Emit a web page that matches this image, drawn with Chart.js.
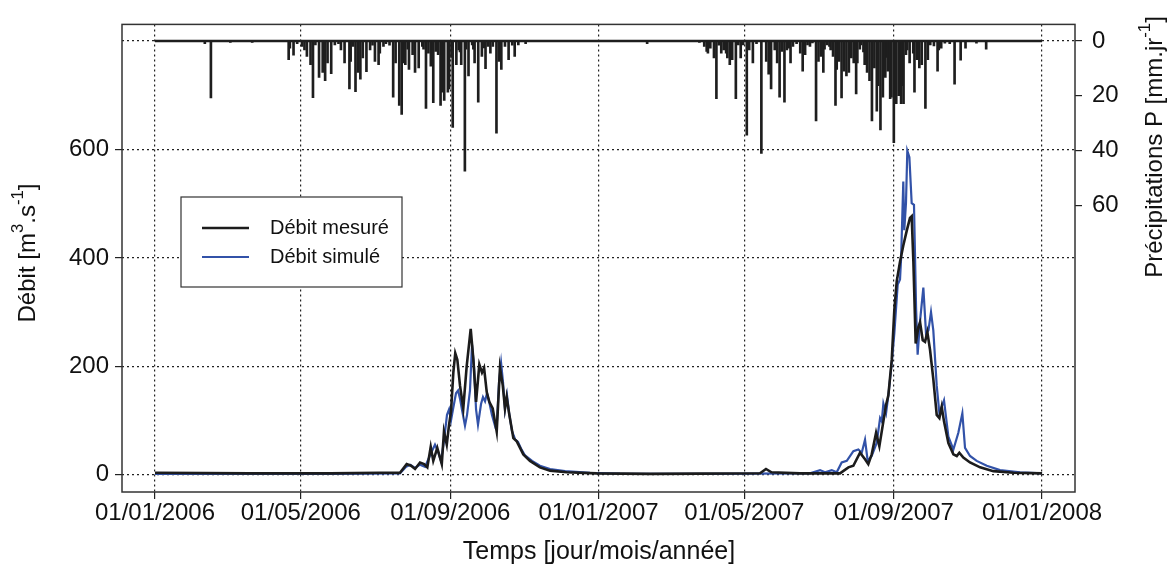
<!DOCTYPE html>
<html>
<head>
<meta charset="utf-8">
<script src="https://cdn.jsdelivr.net/npm/chart.js@4.4.1/dist/chart.umd.min.js"></script>
<style>
  html, body { margin: 0; padding: 0; background: #fff; }
  #wrap { width: 1168px; height: 570px; }
</style>
</head>
<body>
<div id="wrap"><canvas id="chart-debit"></canvas></div>
<script>
// jours comptes depuis le 01/01/2006
var xTickDays = [0, 120, 243, 365, 485, 608, 730];
var xTickLabels = ['01/01/2006', '01/05/2006', '01/09/2006', '01/01/2007', '01/05/2007', '01/09/2007', '01/01/2008'];
var debitTicks = [0, 200, 400, 600];
var pluieTicks = [0, 20, 40, 60];

var mesureDays = [0, 78, 144, 185, 201.6, 207.1, 210.7, 214, 218.1, 221.4, 224.1, 226.9, 229, 232.3, 236, 237.8, 240.1, 242, 243.6, 245.5, 247.1, 248.8, 251, 253.7, 256.5, 259.8, 262, 264.2, 266.9, 269.1, 270.8, 273, 275.1, 277.9, 281.2, 283.9, 286.2, 288, 289.4, 291.6, 294.9, 297.7, 300.4, 303.1, 308.6, 316.8, 325.1, 338.8, 363.5, 407.4, 448.5, 497.9, 502.8, 507.3, 530.8, 563.7, 570.6, 574.7, 580.2, 584.3, 587, 589.8, 593.4, 596.1, 599.4, 601.6, 603.5, 606.3, 608.4, 610.4, 613.1, 615.8, 618.6, 621.3, 622.7, 624.1, 626, 628.2, 629.6, 631.8, 633.7, 635.6, 637.8, 640.5, 643.3, 645.5, 647.4, 649.3, 652.9, 657, 659.8, 661.9, 665.2, 670.7, 679, 689.9, 706.4, 730];
var mesureValues = [3, 2, 2, 3, 3, 19, 16, 10, 22, 19, 13, 51, 25, 49, 19, 79, 55, 92, 116, 188, 224, 212, 164, 122, 200, 269, 212, 134, 203, 188, 197, 152, 134, 122, 79, 197, 164, 122, 143, 110, 67, 61, 49, 37, 25, 13, 7, 4, 2, 1, 1.5, 2, 10, 4, 2, 2, 13, 16, 40, 28, 19, 37, 77, 52, 98, 128, 146, 212, 303, 357, 393, 423, 450, 474, 477, 393, 242, 272, 281, 248, 245, 263, 230, 176, 110, 104, 125, 98, 58, 37, 34, 40, 31, 22, 13, 6, 3, 2];

var simuleDays = [0, 144, 201.6, 206.6, 209.9, 214, 218.1, 222.2, 226.3, 230.4, 232.9, 235.4, 237.8, 240.3, 242, 243.6, 245.2, 247.7, 249.4, 251, 252.6, 255.1, 256.8, 259.2, 260.9, 262.5, 264.2, 265.8, 268.3, 269.9, 271.6, 273.2, 274.9, 277.3, 279.8, 281.5, 283.1, 284.8, 286.4, 288, 289.7, 291.3, 293.8, 296.3, 298.7, 301.2, 304.5, 310.3, 316.8, 325.1, 337.4, 358, 382.7, 448.5, 530.8, 539, 547.3, 551.4, 556.9, 561, 565.1, 569.3, 574.7, 578.8, 581.6, 584.3, 586.5, 589.8, 593.9, 596.7, 598.1, 599.4, 601.6, 603.5, 606.3, 608.4, 611.2, 613.1, 614, 615.8, 616.6, 618, 619.1, 620.8, 622.7, 624.6, 626.3, 627.6, 629.6, 632.3, 634.5, 636.5, 638.6, 640.5, 643.3, 645.5, 649.3, 652.9, 657, 661.1, 664.4, 666.6, 670.7, 676.2, 684.5, 695.4, 711.9, 730];
var simuleValues = [1, 1, 2, 14, 18, 12, 18, 14, 35, 55, 42, 25, 62, 110, 120, 100, 120, 150, 155, 140, 120, 90, 110, 155, 240, 200, 120, 92, 130, 143, 135, 150, 135, 110, 90, 100, 170, 206, 170, 120, 146, 115, 80, 65, 60, 48, 35, 25, 16, 10, 6, 3, 1.5, 1, 2, 2, 8, 4, 8, 4, 22, 25, 43, 46, 40, 64, 25, 34, 58, 104, 98, 131, 113, 146, 206, 260, 351, 360, 400, 541, 451, 501, 598, 586, 501, 498, 309, 221, 284, 345, 260, 266, 300, 266, 164, 113, 137, 70, 46, 77, 113, 49, 34, 25, 16, 8, 4, 2];

var pluieDays = [41, 46, 62, 80, 110, 111, 114, 117, 121, 123, 125, 128, 130, 132, 135, 138, 140, 142, 145, 148, 151, 153, 156, 160, 161, 163, 165, 167, 169, 171, 174, 177, 179, 181, 184, 185, 188, 190, 193, 196, 198, 201, 203, 205, 206, 208, 209, 212, 214, 217, 220, 221, 223, 225, 227, 229, 231, 233, 235, 236, 238, 241, 242, 244, 245, 248, 250, 251, 252, 255, 256, 258, 261, 262, 263, 266, 269, 271, 272, 274, 276, 278, 281, 283, 285, 288, 291, 294, 296, 299, 305,
  405, 448, 452, 454, 455, 457, 460, 462, 464, 466, 468, 470, 471, 473, 475, 478, 480, 482, 484, 487, 489, 492, 495, 499, 503, 505, 507, 510, 512, 514, 516, 518, 520, 522, 523, 525, 528, 531, 533, 535, 537, 539, 541, 544, 546, 548, 550, 551, 553, 555, 556, 558, 560, 561, 563, 565, 567, 569, 571, 573, 575, 577, 578, 580, 581, 583, 584, 586, 588, 590, 592, 594, 595, 597, 599, 601, 602, 603, 605, 606, 608, 610, 612, 614, 615, 616, 618, 619, 621, 624, 625, 627, 629, 631, 634, 636, 638, 641, 644, 645, 647, 650, 654, 658, 663, 667, 676, 684];
var pluieValues = [1, 20.8, 0.5, 0.5, 6.8, 2.6, 5.2, 1, 2, 3.2, 5.6, 8.6, 20.7, 1.4, 13.3, 11.5, 14.5, 8, 11.9, 1.4, 1, 3.2, 8, 17.5, 7.4, 2, 18.5, 11.5, 13.9, 6.2, 11.2, 3.2, 1.5, 7.4, 8.6, 4.4, 2, 1, 1.5, 20.5, 8, 23.5, 26.8, 8, 8.6, 3, 10.4, 5, 11.5, 9.8, 2, 3, 24.6, 4.4, 9.2, 22.5, 3.8, 5, 23.5, 18.7, 21.7, 18.7, 17.5, 6, 31.5, 8.6, 3.2, 4, 8.6, 47.5, 3, 12.7, 1.4, 3, 8, 22.3, 5.6, 2.5, 10.1, 2, 4.4, 2, 33.6, 7.4, 10.4, 2, 6.8, 1.5, 5.6, 1.4, 1,
  1, 0.5, 2, 3.8, 4.4, 2.6, 6.2, 21, 1.5, 4.4, 3.2, 4.4, 6.2, 8.6, 6.8, 21, 1.4, 6.2, 1.4, 34.4, 3.2, 8, 1, 41, 7.4, 12.1, 17.5, 3.2, 8, 20.5, 3.8, 22.3, 3.2, 2.6, 8, 2, 1, 4.4, 11, 5, 1.4, 2, 0.7, 29.2, 7.4, 5.6, 11.5, 3, 1.4, 2, 3.2, 5.6, 23.5, 10.4, 7.4, 20.8, 11, 12.7, 11.5, 6.2, 8, 19.3, 8, 3, 1.4, 4, 8.6, 11.5, 14.5, 29.2, 9.8, 25.6, 16.3, 32.4, 20.5, 13.3, 6, 11, 21, 20.5, 37.1, 22.9, 19.9, 22.9, 16.3, 22.9, 5, 3.2, 8, 4.4, 18.7, 6.8, 9.8, 8.6, 24.6, 6.8, 1.4, 1.8, 11, 3.2, 2.6, 0.8, 1, 15.7, 7, 2.6, 0.8, 3];

var periodeDays = [0, 730];
var periodeZero = [0, 0];

function pairs(xs, ys) {
  return xs.map(function(x, i) { return {x: x, y: ys[i]}; });
}

var FONT = "'Liberation Sans', Arial, sans-serif";

// texte avec exposants : parts = [[texte, exposant?], ...]
function drawRich(c, parts, cx, cy, size, rot) {
  c.save();
  c.translate(cx, cy);
  if (rot) c.rotate(rot);
  var w = 0;
  parts.forEach(function(p) {
    c.font = (p[1] ? size * 0.7 : size) + 'px ' + FONT;
    w += c.measureText(p[0]).width;
  });
  var x = -w / 2;
  c.fillStyle = '#111';
  c.textBaseline = 'middle';
  c.textAlign = 'left';
  parts.forEach(function(p) {
    c.font = (p[1] ? size * 0.7 : size) + 'px ' + FONT;
    c.fillText(p[0], x, p[1] ? -size * 0.42 : 0);
    x += c.measureText(p[0]).width;
  });
  c.restore();
}

var decor = {
  id: 'decor',
  afterDraw: function(chart) {
    var c = chart.ctx, a = chart.chartArea;
    c.save();
    c.strokeStyle = '#333';
    c.lineWidth = 1.5;
    c.strokeRect(a.left, a.top, a.right - a.left, a.bottom - a.top);

    // legende
    var lx = 181, ly = 197, lw = 221, lh = 90;
    c.fillStyle = '#fff';
    c.fillRect(lx, ly, lw, lh);
    c.lineWidth = 1.2;
    c.strokeStyle = '#333';
    c.strokeRect(lx, ly, lw, lh);
    var items = chart.data.datasets.slice(0, 2);
    items.forEach(function(ds, i) {
      var yy = ly + 31 + i * 29;
      c.strokeStyle = ds.borderColor;
      c.lineWidth = ds.borderWidth;
      c.beginPath();
      c.moveTo(lx + 21, yy);
      c.lineTo(lx + 68, yy);
      c.stroke();
      c.fillStyle = '#111';
      c.font = '20px ' + FONT;
      c.textAlign = 'left';
      c.textBaseline = 'middle';
      c.fillText(ds.label, lx + 89, yy);
    });
    c.restore();

    drawRich(c, [['Débit [m', 0], ['3', 1], ['.s', 0], ['-1', 1], [']', 0]], 28, 253, 24, -Math.PI / 2);
    drawRich(c, [['Précipitations P [mm.jr', 0], ['-1', 1], [']', 0]], 1155, 147, 24, -Math.PI / 2);
    drawRich(c, [['Temps [jour/mois/année]', 0]], 599, 552, 25, 0);
  }
};

var tickFont = {size: 24, family: FONT};

var ctx = document.getElementById('chart-debit').getContext('2d');
new Chart(ctx, {
  type: 'line',
  data: {
    datasets: [{
        label: 'Débit mesuré',
        data: pairs(mesureDays, mesureValues),
        borderColor: '#1c1c1c',
        borderWidth: 2.6,
        pointRadius: 0,
        tension: 0,
        yAxisID: 'y',
        order: 1
      },
      {
        label: 'Débit simulé',
        data: pairs(simuleDays, simuleValues),
        borderColor: '#3252a8',
        borderWidth: 2.2,
        pointRadius: 0,
        tension: 0,
        yAxisID: 'y',
        order: 2
      },
      {
        type: 'bar',
        label: 'Précipitations',
        data: pairs(pluieDays, pluieValues),
        backgroundColor: '#1e1e1e',
        barThickness: 2,
        grouped: false,
        yAxisID: 'yP',
        order: 3
      },
      {
        label: 'zero',
        data: pairs(periodeDays, periodeZero),
        borderColor: '#1e1e1e',
        borderWidth: 2.5,
        pointRadius: 0,
        yAxisID: 'yP',
        order: 4
      }
    ]
  },
  options: {
    responsive: true,
    maintainAspectRatio: false,
    animation: false,
    layout: { padding: { top: 14, left: 0, right: 0, bottom: 0 } },
    plugins: {
      legend: { display: false },
      tooltip: { enabled: false }
    },
    scales: {
      x: {
        type: 'linear',
        offset: false,
        min: -27.16,
        max: 757.1,
        afterBuildTicks: function(s) { s.ticks = xTickDays.map(function(v) { return {value: v}; }); },
        afterFit: function(s) { s.height = 78; },
        grid: { offset: false, color: '#222', lineWidth: 1.2, borderDash: [2, 3], tickLength: 7, tickColor: '#222', tickWidth: 1.2, tickBorderDash: [] },
        border: { display: false, dash: [2, 3] },
        ticks: {
          autoSkip: false,
          maxRotation: 0,
          padding: 0,
          color: '#111',
          font: tickFont,
          callback: function(v, i) { return xTickLabels[i]; }
        }
      },
      y: {
        position: 'left',
        min: -32.5,
        max: 831.4,
        afterBuildTicks: function(s) { s.ticks = debitTicks.map(function(v) { return {value: v}; }); },
        afterFit: function(s) { s.width = 122; },
        grid: { color: '#222', lineWidth: 1.2, borderDash: [2, 3], tickLength: 7, tickColor: '#222', tickWidth: 1.2, tickBorderDash: [] },
        border: { display: false, dash: [2, 3] },
        ticks: { padding: 6, color: '#111', font: tickFont }
      },
      yP: {
        position: 'right',
        reverse: true,
        min: -6.07,
        max: 164.6,
        afterBuildTicks: function(s) { s.ticks = pluieTicks.map(function(v) { return {value: v}; }); },
        afterFit: function(s) { s.width = 93; },
        grid: {
          color: function(c) { return c.tick && c.tick.value === 0 ? '#222' : 'rgba(0,0,0,0)'; },
          lineWidth: 1.2, borderDash: [2, 3], tickLength: 7, tickColor: '#222', tickWidth: 1.2, tickBorderDash: []
        },
        border: { display: false, dash: [2, 3] },
        ticks: { padding: 10, color: '#111', font: tickFont }
      }
    }
  },
  plugins: [decor]
});
</script>
</body>
</html>
